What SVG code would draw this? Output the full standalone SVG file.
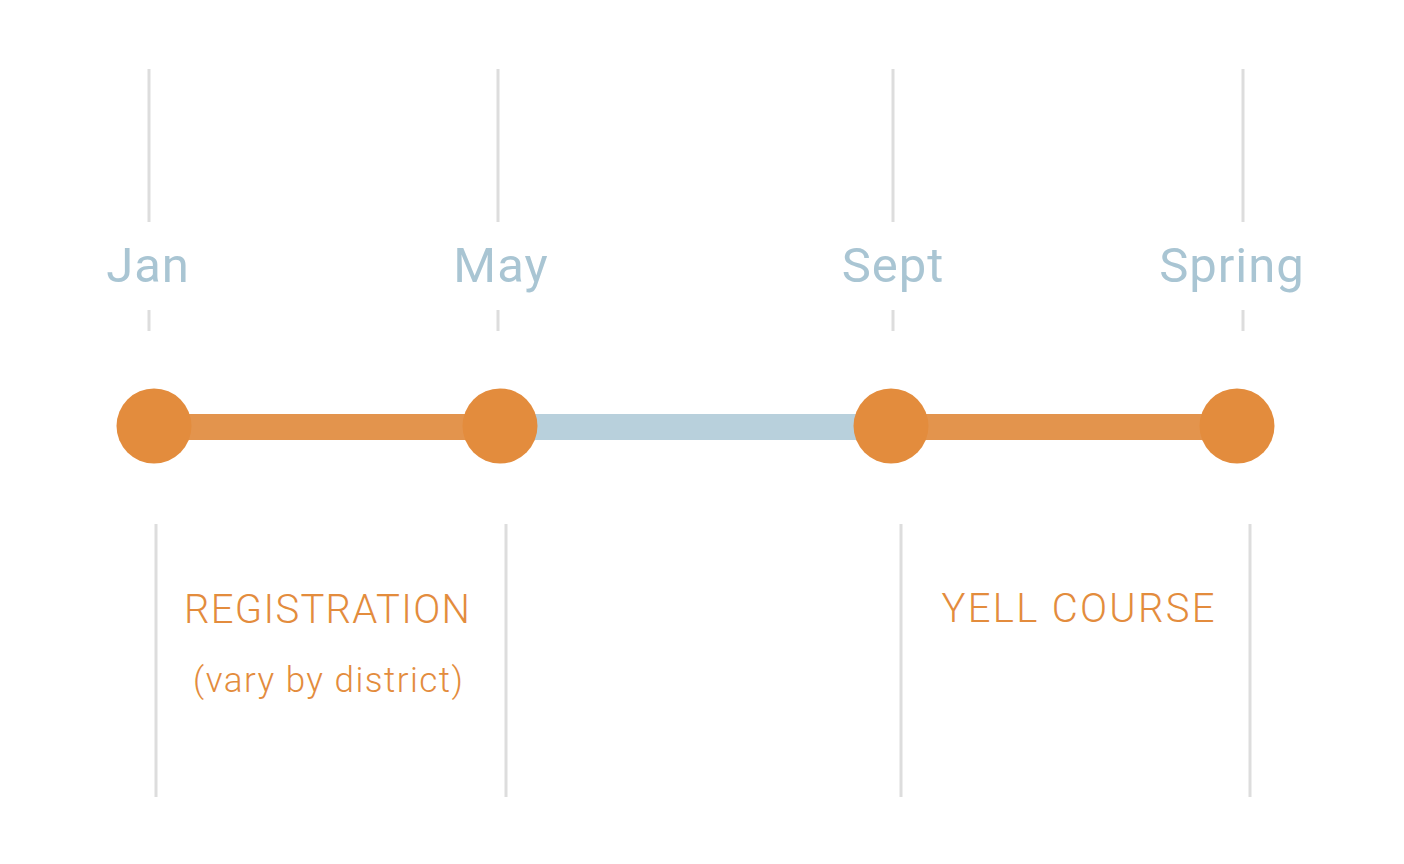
<svg xmlns="http://www.w3.org/2000/svg" width="1404" height="864" viewBox="0 0 1404 864">
<style>
.grid{stroke:#dddddd;stroke-width:3;fill:none}
.month{font-family:Roboto,"Liberation Sans",sans-serif;font-size:49px;fill:#a9c5d3;text-anchor:middle;letter-spacing:1px}
.lbl{font-family:Roboto,"Liberation Sans",sans-serif;font-weight:300;fill:#e38c3d;text-anchor:middle}
.dot{fill:#e38c3d}
</style>
<rect width="1404" height="864" fill="#ffffff"/>
<g id="gridlines">
<line class="grid" x1="149" y1="69" x2="149" y2="222"/>
<line class="grid" x1="498" y1="69" x2="498" y2="222"/>
<line class="grid" x1="893" y1="69" x2="893" y2="222"/>
<line class="grid" x1="1243" y1="69" x2="1243" y2="222"/>
<line class="grid" x1="149" y1="310" x2="149" y2="331"/>
<line class="grid" x1="498" y1="310" x2="498" y2="331"/>
<line class="grid" x1="893" y1="310" x2="893" y2="331"/>
<line class="grid" x1="1243" y1="310" x2="1243" y2="331"/>
<line class="grid" x1="156" y1="524" x2="156" y2="797"/>
<line class="grid" x1="506" y1="524" x2="506" y2="797"/>
<line class="grid" x1="901" y1="524" x2="901" y2="797"/>
<line class="grid" x1="1250" y1="524" x2="1250" y2="797"/>
</g>
<g id="months">
<text class="month" x="148" y="282">Jan</text>
<text class="month" x="501" y="282">May</text>
<text class="month" x="893" y="282">Sept</text>
<text class="month" x="1232" y="282">Spring</text>
</g>
<g id="connectors">
<line x1="154" y1="427" x2="500" y2="427" stroke="#e3944d" stroke-width="26"/>
<line x1="500" y1="427" x2="891" y2="427" stroke="#b8d0dc" stroke-width="26"/>
<line x1="891" y1="427" x2="1237" y2="427" stroke="#e3944d" stroke-width="26"/>
</g>
<g id="node-jan"><circle class="dot" cx="154" cy="426" r="37.5"/></g>
<g id="node-may"><circle class="dot" cx="500" cy="426" r="37.5"/></g>
<g id="node-sept"><circle class="dot" cx="891" cy="426" r="37.5"/></g>
<g id="node-spring"><circle class="dot" cx="1237" cy="426" r="37.5"/></g>
<g id="registration">
<text class="lbl" x="327" y="623" font-size="40" textLength="286" lengthAdjust="spacing">REGISTRATION</text>
<text class="lbl" x="328" y="692" font-size="35" textLength="270" lengthAdjust="spacing">(vary by district)</text>
</g>
<g id="yell-course">
<text class="lbl" x="1078" y="622" font-size="40" textLength="273" lengthAdjust="spacing">YELL COURSE</text>
</g>
</svg>
